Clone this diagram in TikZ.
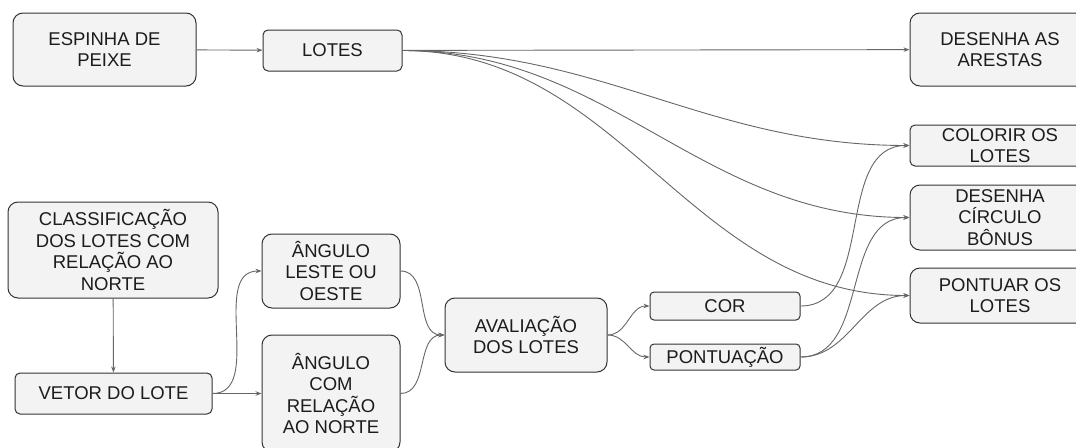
\documentclass[tikz,border=0pt]{standalone}
\usepackage{fontspec}
\setmainfont{Liberation Sans}
\usetikzlibrary{arrows.meta}
\definecolor{boxfill}{HTML}{F3F3F3}
\definecolor{boxline}{HTML}{333333}
\definecolor{wire}{HTML}{666666}
\definecolor{ink}{HTML}{1C1C1C}
\begin{document}
\begin{tikzpicture}[x=1pt,y=-1pt,
  box/.style={draw=boxline,fill=boxfill,line width=1pt,rounded corners=10pt,inner sep=0pt,
    align=center,text=ink,font=\fontsize{18.5}{21.5}\selectfont},
  smallbox/.style={box,rounded corners=5pt},
  wire/.style={draw=wire,line width=0.9pt,-{Stealth[length=6pt,width=4.5pt]}}]
\useasboundingbox (0,0) rectangle (1076,447);
\node[box,minimum width=183,minimum height=73] (espinha) at (104.5,49.5) {ESPINHA DE\\PEIXE};
\node[smallbox,minimum width=139,minimum height=41] (lotes) at (332.5,50.5) {LOTES};
\node[box,minimum width=180,minimum height=73] (arestas) at (1000,49.5) {DESENHA AS\\ARESTAS};
\node[smallbox,minimum width=180,minimum height=41] (colorir) at (1000,145.5) {COLORIR OS\\LOTES};
\node[box,minimum width=180,minimum height=65] (circulo) at (1000,217.5) {DESENHA\\CÍRCULO\\BÔNUS};
\node[box,minimum width=180,minimum height=55] (pontuar) at (1000,295.5) {PONTUAR OS\\LOTES};
\node[box,minimum width=210,minimum height=96] (classif) at (113,250) {CLASSIFICAÇÃO\\DOS LOTES COM\\RELAÇÃO AO\\NORTE};
\node[smallbox,minimum width=197,minimum height=41] (vetor) at (113.5,393.5) {VETOR DO LOTE};
\node[box,minimum width=138,minimum height=74] (leste) at (331,271) {ÂNGULO\\LESTE OU\\OESTE};
\node[box,minimum width=138,minimum height=117] (norte) at (331,393.5) {ÂNGULO\\COM\\RELAÇÃO\\AO NORTE};
\node[box,minimum width=162,minimum height=74] (avalia) at (526,335) {AVALIAÇÃO\\DOS LOTES};
\node[smallbox,rounded corners=4pt,minimum width=150,minimum height=28] (cor) at (725,306) {COR};
\node[smallbox,rounded corners=4pt,minimum width=150,minimum height=26] (pontua) at (725,357) {PONTUAÇÃO};
\draw[wire] (espinha) -- (lotes);
\draw[wire] (lotes) -- (arestas);
\draw[wire] (lotes.east) to[out=0,in=180] (colorir.west);
\draw[wire] (lotes.east) to[out=0,in=180] (circulo.west);
\draw[wire] (lotes.east) to[out=0,in=180] (pontuar.west);
\draw[wire] (classif) -- (vetor);
\draw[wire] (vetor.east) to[out=0,in=180] (leste.west);
\draw[wire] (vetor.east) -- (norte.west);
\draw[wire] (leste.east) to[out=0,in=180] (avalia.west);
\draw[wire] (norte.east) to[out=0,in=180] (avalia.west);
\draw[wire] (avalia.east) to[out=0,in=180] (cor.west);
\draw[wire] (avalia.east) to[out=0,in=180] (pontua.west);
\draw[wire] (cor.east) to[out=0,in=180] (colorir.west);
\draw[wire] (pontua.east) to[out=0,in=180] (circulo.west);
\draw[wire] (pontua.east) to[out=0,in=180] (pontuar.west);
\end{tikzpicture}
\end{document}
